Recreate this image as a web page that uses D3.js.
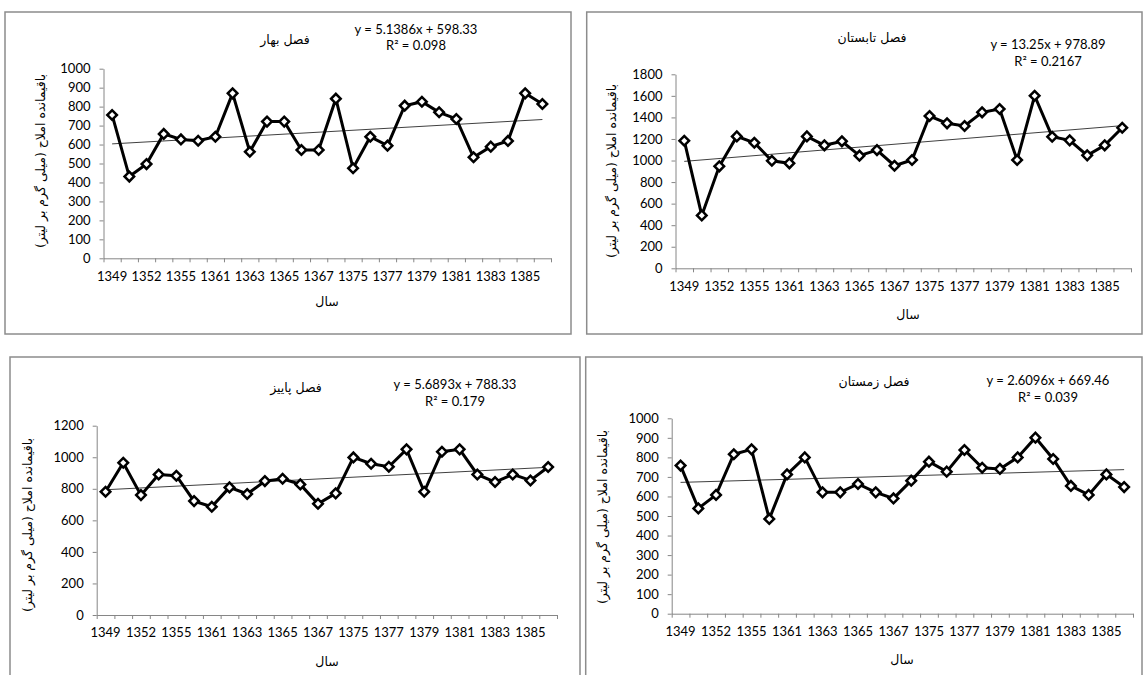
<!DOCTYPE html>
<html lang="fa">
<head>
<meta charset="UTF-8">
<script src="https://d3js.org/d3.v7.min.js"></script>
<title>Seasonal TDS</title>
<style>
  body { margin: 0; background: #fff; }
  svg { display: block; }
  .num { font-family: Lato, "Open Sans", sans-serif; font-size: 13px; fill: #000; }
  .fa { font-family: "DejaVu Sans", sans-serif; font-size: 12.5px; fill: #000; direction: rtl; unicode-bidi: embed; }
</style>
</head>
<body>
<div id="chart"></div>
<script>

// categories (every other one is labelled on the axis)
var years = ["1349","1351","1352","1354","1355","1360","1361","1362","1363","1364","1365","1366","1367",
             "1368","1375","1376","1377","1378","1379","1380","1381","1382","1383","1384","1385","1386"];
var labelYears = ["1349","1352","1355","1361","1363","1365","1367","1375","1377","1379","1381","1383","1385"];

// series values
var springValues = [756,431,497,656,627,620,641,870,562,721,721,571,571,842,475,641,594,805,826,770,735,533,589,619,870,814];
var summerValues = [1184,491,946,1224,1165,998,974,1224,1141,1178,1045,1097,952,1005,1413,1345,1320,1447,1478,1005,1601,1221,1187,1048,1141,1304];
var autumnValues = [781,965,760,891,883,722,686,809,767,849,864,828,705,771,999,959,940,1050,781,1035,1050,891,843,891,853,938];
var winterValues = [758,539,608,816,841,485,713,800,621,621,664,621,590,681,778,727,838,747,741,800,901,792,654,608,713,648];

// y tick labels
var springTicks = [0,100,200,300,400,500,600,700,800,900,1000];
var summerTicks = [0,200,400,600,800,1000,1200,1400,1600,1800];
var autumnTicks = [0,200,400,600,800,1000,1200];
var winterTicks = [0,100,200,300,400,500,600,700,800,900,1000];

// linear trend lines as printed on each chart
var trendSlopes = [5.1386, 13.25, 5.6893, 2.6096];
var trendIntercepts = [598.33, 978.89, 788.33, 669.46];
var rSquared = ["0.098", "0.2167", "0.179", "0.039"];

var titles = ["فصل بهار", "فصل تابستان", "فصل  پاییز", "فصل زمستان"];
var xTitle = "سال";
var yTitle = "باقیمانده املاح (میلی گرم بر لیتر)";

var allValues = [springValues, summerValues, autumnValues, winterValues];
var allTicks = [springTicks, summerTicks, autumnTicks, winterTicks];

// where each panel sits on the page
var layout = [
  {frame: [5, 12, 571, 334],    plot: [103.5, 551, 68.7, 258.3], title: [285, 40], eq: [416, 31], r2: 47, xt: [327, 302], yt: [41, 161]},
  {frame: [586.7, 12, 1142, 334], plot: [675.5, 1131, 74.3, 268.3], title: [872, 38], eq: [1048, 46], r2: 63, xt: [908, 315], yt: [612, 171]},
  {frame: [10, 357, 580, 700],  plot: [96.7, 557, 425.7, 615], title: [296, 388], eq: [455, 386], r2: 403, xt: [327, 662], yt: [28, 525]},
  {frame: [585.7, 357, 1142, 700], plot: [671.7, 1133, 418.3, 613.7], title: [874, 382], eq: [1048, 382], r2: 399, xt: [902, 660], yt: [603, 517]}
];

var svg = d3.select("#chart").append("svg")
  .attr("width", 1145)
  .attr("height", 675);

var axisColor = "#868686";

layout.forEach(function(L, i) {
  var values = allValues[i], ticks = allTicks[i];

  // frame
  svg.append("rect")
    .attr("x", L.frame[0]).attr("y", L.frame[1])
    .attr("width", L.frame[2] - L.frame[0]).attr("height", L.frame[3] - L.frame[1])
    .attr("fill", "none").attr("stroke", "#8c8c8c").attr("stroke-width", 1.5);

  var x = d3.scaleBand().domain(years).range([L.plot[0], L.plot[1]]).padding(0);
  var xEdge = d3.scaleLinear().domain([0, years.length]).range([L.plot[0], L.plot[1]]);
  var y = d3.scaleLinear().domain([0, d3.max(ticks)]).range([L.plot[3], L.plot[2]]);
  var cx = function(k) { return x(years[k]) + x.bandwidth() / 2; };

  // y axis
  var gy = svg.append("g")
    .attr("transform", "translate(" + L.plot[0] + ",0)")
    .call(d3.axisLeft(y).tickValues(ticks).tickSize(4).tickPadding(9).tickSizeOuter(0).tickFormat(d3.format("d")));

  // x axis: tick marks at category edges, labels under every other category
  var gx = svg.append("g")
    .attr("transform", "translate(0," + L.plot[3] + ")")
    .call(d3.axisBottom(xEdge).tickValues(d3.range(years.length + 1)).tickSize(4).tickSizeOuter(0).tickFormat(""));
  var gxl = svg.append("g")
    .attr("transform", "translate(0," + L.plot[3] + ")")
    .call(d3.axisBottom(x).tickValues(labelYears).tickSize(0).tickPadding(13));
  gxl.select(".domain").remove();

  [gy, gx].forEach(function(g) {
    g.select(".domain").attr("stroke", axisColor).attr("stroke-width", 1);
    g.selectAll(".tick line").attr("stroke", axisColor);
  });
  [gy, gxl].forEach(function(g) {
    g.attr("font-family", null).attr("font-size", null);
    g.selectAll("text").attr("class", "num");
  });

  // trend line
  var k0 = 0, k1 = years.length - 1;
  svg.append("line")
    .attr("x1", cx(k0)).attr("y1", y(trendSlopes[i] * (k0 + 1) + trendIntercepts[i]))
    .attr("x2", cx(k1)).attr("y2", y(trendSlopes[i] * (k1 + 1) + trendIntercepts[i]))
    .attr("stroke", "#404040").attr("stroke-width", 1);

  // series line
  svg.append("path")
    .datum(values)
    .attr("fill", "none")
    .attr("stroke", "#000")
    .attr("stroke-width", 3)
    .attr("stroke-linejoin", "miter")
    .attr("d", d3.line().x(function(d, k) { return cx(k); }).y(function(d) { return y(d); }));

  // diamond markers
  svg.selectAll(null)
    .data(values)
    .enter()
    .append("path")
    .attr("d", d3.symbol().type(d3.symbolSquare).size(46))
    .attr("transform", function(d, k) { return "translate(" + cx(k) + "," + y(d) + ") rotate(45)"; })
    .attr("fill", "#fff")
    .attr("stroke", "#000")
    .attr("stroke-width", 2.5);

  // texts
  svg.append("text").attr("class", "fa")
    .attr("x", L.title[0]).attr("y", L.title[1])
    .attr("text-anchor", "middle").attr("dominant-baseline", "middle")
    .text(titles[i]);

  svg.append("text").attr("class", "num")
    .attr("x", L.eq[0]).attr("y", L.eq[1])
    .attr("text-anchor", "middle").attr("dominant-baseline", "middle")
    .text("y = " + trendSlopes[i] + "x + " + trendIntercepts[i]);

  svg.append("text").attr("class", "num")
    .attr("x", L.eq[0]).attr("y", L.r2)
    .attr("text-anchor", "middle").attr("dominant-baseline", "middle")
    .text("R\u00B2 = " + rSquared[i]);

  svg.append("text").attr("class", "fa")
    .attr("x", L.xt[0]).attr("y", L.xt[1])
    .attr("text-anchor", "middle").attr("dominant-baseline", "middle")
    .text(xTitle);

  svg.append("text").attr("class", "fa")
    .attr("transform", "translate(" + L.yt[0] + "," + L.yt[1] + ") rotate(-90)")
    .attr("text-anchor", "middle").attr("dominant-baseline", "middle")
    .text(yTitle);
});

</script>
</body>
</html>
